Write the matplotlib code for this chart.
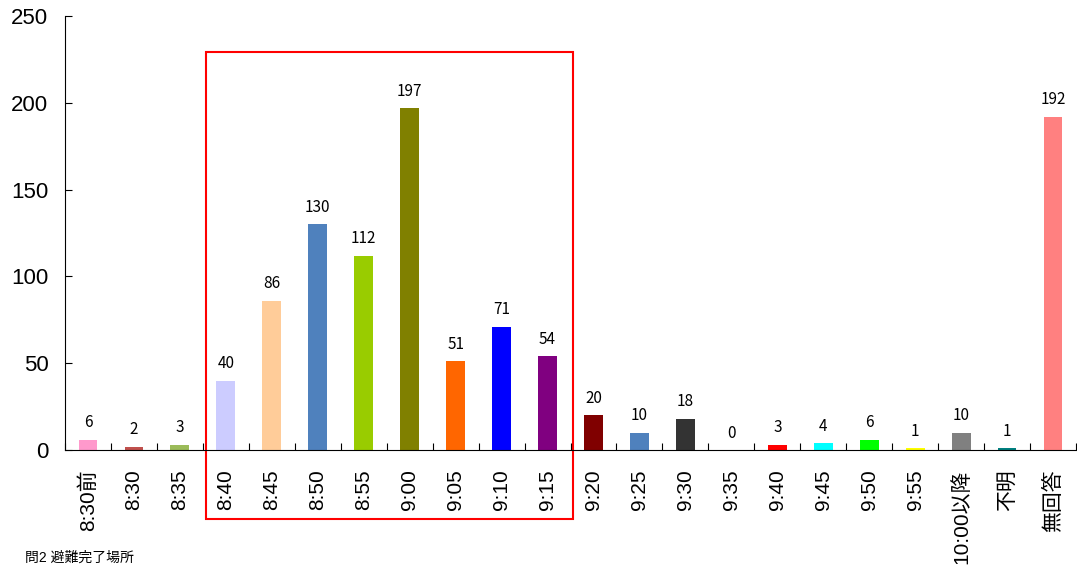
import matplotlib
matplotlib.use('Agg')
import matplotlib.pyplot as plt
from matplotlib.patches import Rectangle

plt.rcParams['font.family'] = ['Liberation Sans', 'Noto Sans CJK JP', 'DejaVu Sans']

labels = ['8:30前', '8:30', '8:35', '8:40', '8:45', '8:50', '8:55', '9:00', '9:05',
          '9:10', '9:15', '9:20', '9:25', '9:30', '9:35', '9:40', '9:45', '9:50',
          '9:55', '10:00以降', '不明', '無回答']
values = [6, 2, 3, 40, 86, 130, 112, 197, 51, 71, 54, 20, 10, 18, 0, 3, 4, 6, 1, 10, 1, 192]
colors = ['#FF99CC', '#C0504D', '#9BBB59', '#CCCCFF', '#FFCC99', '#4F81BD', '#99CC00',
          '#808000', '#FF6600', '#0000FF', '#800080', '#800000', '#4F81BD', '#333333',
          '#FFFFFF', '#FF0000', '#00FFFF', '#00FF00', '#FFFF00', '#808080', '#008080',
          '#FF8080']

fig = plt.figure(figsize=(10.77, 5.66), dpi=100)
ax = fig.add_axes([65/1077, 1 - 450/566, 1011/1077, 434/566])

x = list(range(len(labels)))
ax.bar(x, values, width=0.41, color=colors)

for xi, v in zip(x, values):
    ax.annotate(str(v), (xi, v), xytext=(0, 6), textcoords='offset points',
                ha='center', va='bottom', fontsize=11,
                family=['Noto Sans CJK JP', 'DejaVu Sans'])

ax.set_xlim(-0.5, len(labels) - 0.5)
ax.set_ylim(0, 250)
ax.set_yticks([0, 50, 100, 150, 200, 250])
ax.tick_params(axis='y', direction='in', length=5, labelsize=16, pad=12)
ax.set_xticks([i + 0.5 for i in x[:-1]] + [-0.5, len(labels) - 0.5], minor=False)
ax.set_xticklabels([])
ax.set_xticks(x, minor=True)
ax.set_xticklabels(labels, minor=True, rotation=90, fontsize=15)
ax.tick_params(axis='x', which='major', direction='in', length=5)
ax.tick_params(axis='x', which='minor', length=0, pad=14)

for s in ['top', 'right']:
    ax.spines[s].set_visible(False)

# highlight box around 8:40 - 9:15
ax.add_patch(Rectangle((2.57, -39.7), 7.99, 269.0, fill=False, edgecolor='red',
                       linewidth=1.5, clip_on=False))

fig.text(25/1077, 1 / 566, '問2 避難完了場所', fontsize=10, va='bottom')

fig.savefig('out.png')
